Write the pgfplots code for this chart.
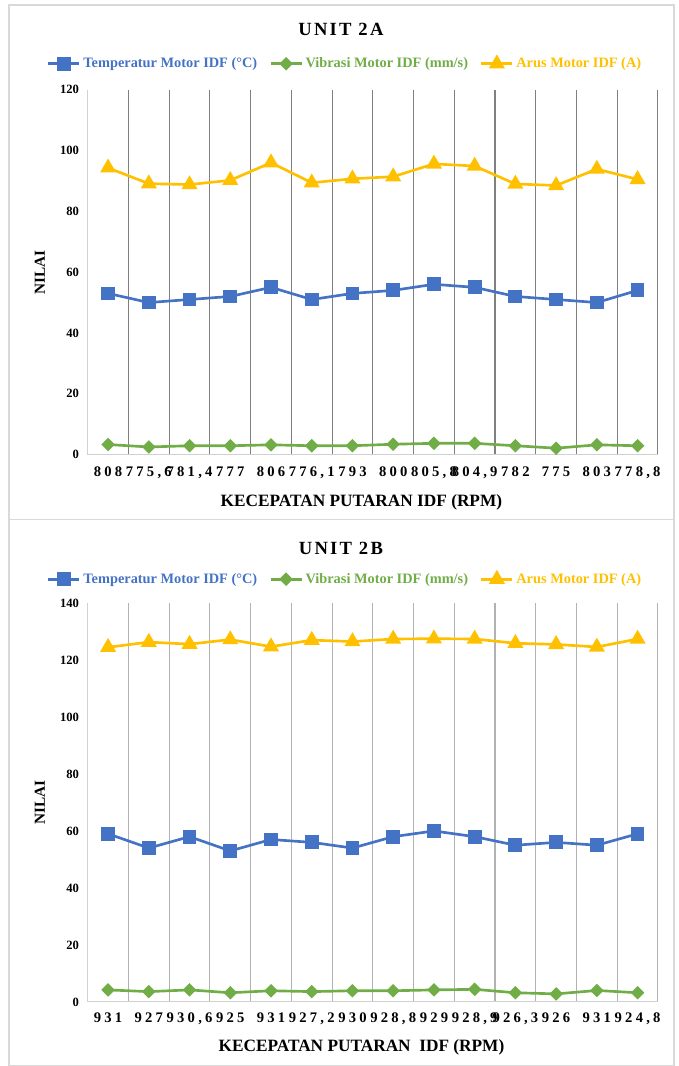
\documentclass[border=0pt]{standalone}
\usepackage{fontspec}
\setmainfont{Liberation Serif}
\newfontfamily\spaced{Liberation Serif}[LetterSpace=22]
\newfontfamily\titlefont{Liberation Serif}[LetterSpace=12]
\usepackage{pgfplots}
\pgfplotsset{compat=1.18}
\definecolor{cblue}{HTML}{4472C4}
\definecolor{cgreen}{HTML}{70AD47}
\definecolor{cyellow}{HTML}{FFC000}
\definecolor{frame}{HTML}{D9D9D9}
\pgfplotsset{
  panel/.style={
    scale only axis, width=429pt,
    xmin=-0.5, xmax=13.5, ymin=0,
    xtick={0,...,13}, minor xtick={0.5,1.5,...,13.5}, xminorgrids,
    major tick length=0pt, minor tick length=0pt,
    axis lines=left, axis line style={-, draw=black!18, line width=0.75pt},
    /pgf/number format/assume math mode=true,
    yticklabel style={font=\bfseries\fontsize{9.5}{11}\selectfont, xshift=-3pt},
    xticklabel style={font=\fontsize{11}{13}\spaced\bfseries},
    ylabel={NILAI},
    ylabel style={at={(axis description cs:-0.084,0.5)}, anchor=center, font=\bfseries\fontsize{11.5}{14}\selectfont},
    xlabel style={at={(axis description cs:0.48,0)}, anchor=center, font=\bfseries\fontsize{13}{15}\selectfont},
    title style={at={(axis description cs:0.444,1)}, anchor=center, font=\fontsize{14}{16}\titlefont\bfseries},
    legend style={draw=none, fill=none, legend columns=3, at={(axis description cs:0.452,1)}, anchor=center,
      font=\bfseries\fontsize{10.8}{12}\selectfont,
      /tikz/every even column/.append style={column sep=7pt}},
    legend image code/.code={\draw[mark repeat=2,mark phase=2] plot coordinates {(0cm,0cm) (0.41cm,0cm) (0.82cm,0cm)};},
  },
  tser/.style={cblue, line width=2pt, mark=square*, mark size=4.2pt, mark options={solid}},
  vser/.style={cgreen, line width=2pt, mark=square*, mark size=2.6pt, mark options={solid, rotate=45}},
  aser/.style={cyellow, line width=2pt, mark=triangle*, mark size=5pt, mark options={solid}},
}
\begin{document}
\begin{tikzpicture}
\path (0,0) rectangle (510.75pt,799.5pt);
\draw[frame, line width=1pt] (6.75pt,408.75pt) rectangle (507pt,795.75pt);
\draw[frame, line width=1pt] (6.75pt,-2pt) rectangle (507pt,408.75pt);
% ---- UNIT 2A
\begin{axis}[panel, at={(66pt,457.5pt)}, anchor=south west,
  height=274.5pt, ymax=120, ytick={0,20,...,120},
  minor grid style={black!50, line width=0.8pt},
  xticklabels={808,{775,6},{781,4},777,806,{776,1},793,800,{805,8},{804,9},782,775,803,{778,8}},
  xticklabel style={yshift=-6pt},
  xlabel={KECEPATAN PUTARAN IDF (RPM)}, xlabel style={yshift=-36pt},
  title={UNIT 2A}, title style={yshift=39pt},
  legend style={yshift=19.5pt}]
\addplot[tser] coordinates {(0,53) (1,50) (2,51) (3,52) (4,55) (5,51) (6,53) (7,54) (8,56) (9,55) (10,52) (11,51) (12,50) (13,54)};
\addlegendentry{\textcolor{cblue}{Temperatur Motor IDF (°C)}}
\addplot[vser] coordinates {(0,3.3) (1,2.5) (2,2.9) (3,2.9) (4,3.2) (5,2.9) (6,2.9) (7,3.4) (8,3.7) (9,3.7) (10,2.9) (11,2.1) (12,3.2) (13,2.9)};
\addlegendentry{\textcolor{cgreen}{Vibrasi Motor IDF (mm/s)}}
\addplot[aser] coordinates {(0,94.3) (1,89.1) (2,88.8) (3,90.2) (4,96.0) (5,89.4) (6,90.7) (7,91.4) (8,95.6) (9,94.9) (10,89.0) (11,88.5) (12,93.9) (13,90.5)};
\addlegendentry{\textcolor{cyellow}{Arus Motor IDF (A)}}
\end{axis}
% ---- UNIT 2B
\begin{axis}[panel, at={(66pt,45.75pt)}, anchor=south west,
  height=300pt, ymax=140, ytick={0,20,...,140},
  minor grid style={black!30, line width=0.8pt},
  xticklabels={931,927,{930,6},925,931,{927,2},930,{928,8},929,{928,9},{926,3},926,931,{924,8}},
  xticklabel style={yshift=-5pt},
  xlabel={KECEPATAN PUTARAN\ \ IDF (RPM)}, xlabel style={yshift=-34.5pt},
  title={UNIT 2B}, title style={yshift=35.25pt},
  legend style={yshift=18pt}]
\addplot[tser] coordinates {(0,59) (1,54) (2,58) (3,53) (4,57) (5,56) (6,54) (7,58) (8,60) (9,58) (10,55) (11,56) (12,55) (13,59)};
\addlegendentry{\textcolor{cblue}{Temperatur Motor IDF (°C)}}
\addplot[vser] coordinates {(0,4.2) (1,3.6) (2,4.2) (3,3.2) (4,3.9) (5,3.6) (6,3.9) (7,3.9) (8,4.2) (9,4.4) (10,3.2) (11,2.8) (12,4.0) (13,3.2)};
\addlegendentry{\textcolor{cgreen}{Vibrasi Motor IDF (mm/s)}}
\addplot[aser] coordinates {(0,124.5) (1,126.3) (2,125.6) (3,127.2) (4,124.7) (5,127.0) (6,126.5) (7,127.4) (8,127.5) (9,127.4) (10,125.9) (11,125.5) (12,124.6) (13,127.4)};
\addlegendentry{\textcolor{cyellow}{Arus Motor IDF (A)}}
\end{axis}
\end{tikzpicture}
\end{document}
